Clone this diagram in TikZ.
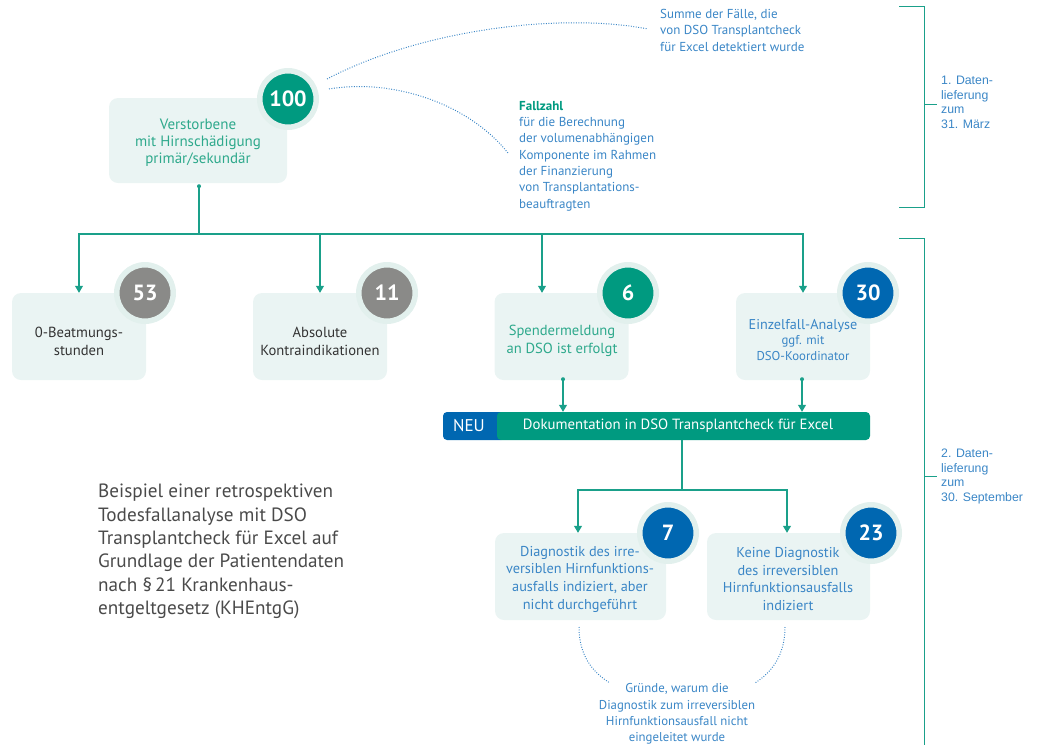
\documentclass[tikz,border=0pt]{standalone}
\usepackage{fontspec}
\setmainfont{PT Sans}
\newfontfamily\arialf{Liberation Sans}
\usetikzlibrary{arrows.meta,calc}
\definecolor{tealc}{HTML}{009A80}
\definecolor{tealtxt}{HTML}{2EA98C}
\definecolor{linec}{HTML}{1AA08A}
\definecolor{bluec}{HTML}{0067B1}
\definecolor{bluetxt}{HTML}{3A86C6}
\definecolor{grayc}{HTML}{8A8A88}
\definecolor{boxfill}{HTML}{EAF4F3}
\definecolor{halo}{HTML}{E2F0ED}
\definecolor{capgray}{HTML}{4A4A4A}
\definecolor{darktxt}{HTML}{333333}
\begin{document}
\begin{tikzpicture}[x=1pt,y=-1pt,
  box/.style={fill=boxfill, rounded corners=9pt, inner sep=0pt, minimum width=#1, minimum height=87pt},
  box/.default=134pt,
  numc/.style={circle, fill=#1, draw=halo, line width=5.5pt, minimum size=56.5pt, inner sep=0pt,
    text=white, font=\bfseries\fontsize{22}{22}\selectfont},
  btext/.style={align=center, inner sep=0pt, font=\fontsize{14.6}{18}\selectfont},
  ann/.style={align=left, inner sep=0pt, anchor=north west, text=bluetxt, font=\fontsize{13}{16.3}\selectfont},
  conn/.style={draw=linec, line width=1.1pt},
  arr/.style={conn, -{Triangle[width=8pt,length=7pt]}},
  dotc/.style={draw=bluetxt, line width=1pt, dash pattern=on 0.9pt off 1.6pt},
  brk/.style={draw=linec, line width=1pt},
  brtext/.style={align=left, inner sep=0pt, anchor=north west, text=bluetxt, font=\arialf\fontsize{12.3}{14.5}\selectfont}
]
\useasboundingbox (0,0) rectangle (1038,745);

% top box
\node[box=178pt, minimum height=85pt] (vb) at (198,140.5) {};
\node[btext, text=tealtxt, font=\fontsize{15}{17}\selectfont] (tvb) at (198,143) {Verstorbene\\mit Hirnschädigung\\primär/sekundär};
\node[numc=tealc] (c100) at (288,99) {100};

% row 2 boxes
\node[box] (b53) at (79,336.5) {};
\node[box] (b11) at (320,336.5) {};
\node[box] (b6) at (561.5,336.5) {};
\node[box] (b30) at (803,336.5) {};
\node[numc=grayc] (c53) at (145,293) {53};
\node[numc=grayc] (c11) at (387,293) {11};
\node[numc=tealc] (c6) at (628,293) {6};
\node[numc=bluec] (c30) at (868,293) {30};
\node[btext, text=darktxt] (t53) at (79,341) {0-Beatmungs-\\stunden};
\node[btext, text=darktxt] (t11) at (320,341) {Absolute\\Kontraindikationen};
\node[btext, text=tealtxt] (t6) at (562,341) {Spendermeldung\\an DSO ist erfolgt};
\node[btext, text=bluetxt, font=\fontsize{12.8}{15.8}\selectfont] (t30) at (803,340)
  {{\fontsize{14.2}{15.8}\selectfont Einzelfall-Analyse}\\ggf. mit\\DSO-Koordinator};

% documentation bar
\node[fill=bluec, rounded corners=4pt, minimum width=62pt, minimum height=28pt, inner sep=0pt] (neu) at (474,426) {};
\node[text=white, inner sep=0pt, font=\fontsize{17}{17}\selectfont] (tneu) at (469,426) {NEU};
\node[fill=tealc, rounded corners=4pt, minimum width=373pt, minimum height=28pt, inner sep=0pt,
  text=white, font=\fontsize{14.8}{14.8}\selectfont] (bar) at (683.5,426)
  {\hspace*{-11pt}Dokumentation in DSO Transplantcheck für Excel};

% row 3 boxes
\node[box=171pt] (b7) at (580.5,576.5) {};
\node[box=163pt] (b23) at (788.5,576.5) {};
\node[numc=bluec] (c7) at (668,533) {7};
\node[numc=bluec] (c23) at (871,533) {23};
\node[btext, text=bluetxt, font=\fontsize{14.3}{17.7}\selectfont] (t7) at (580,579)
  {Diagnostik des irre-\\versiblen Hirnfunktions-\\ausfalls indiziert, aber\\nicht durchgeführt};
\node[btext, text=bluetxt, font=\fontsize{14.3}{17.7}\selectfont] (t23) at (788,579)
  {Keine Diagnostik\\des irreversiblen\\Hirnfunktionsausfalls\\indiziert};

% reasons text
\node[btext, text=bluetxt, font=\fontsize{12.8}{16.2}\selectfont] (tg) at (677,714)
  {Gründe, warum die\\Diagnostik zum irreversiblen\\Hirnfunktionsausfall nicht\\eingeleitet wurde};

% annotations top
\node[ann] (a1) at (660,9) {Summe der Fälle, die\\von DSO Transplantcheck\\für Excel detektiert wurde};
\node[ann] (a2) at (519,101) {\textcolor{tealc}{\bfseries Fallzahl}\\für die Berechnung\\der volumenabhängigen\\Komponente im Rahmen\\der Finanzierung\\von Transplantations-\\beauftragten};

% caption
\node[align=left, inner sep=0pt, anchor=north west, text=capgray, font=\fontsize{19.2}{23.3}\selectfont] (cap) at (98,484)
  {Beispiel einer retrospektiven\\Todesfallanalyse mit DSO\\Transplantcheck für Excel auf\\Grundlage der Patientendaten\\nach §\,21 Krankenhaus-\\entgeltgesetz (KHEntgG)};

% connectors
\coordinate (bus) at (199,234);
\coordinate (s0) at ($(vb.south)+(1,3)$);
\fill[linec] (s0) circle (2pt);
\draw[conn] (s0) -- (bus);
\draw[arr] (bus) -| (b53.north);
\draw[arr] (bus) -| (b11.north);
\coordinate (e6) at ($(b6.north)+(-19.5,0)$);
\draw[arr] (bus) -| (e6);
\draw[arr] (bus) -| (b30.north);

\coordinate (s6) at ($(b6.south)+(1.5,-1)$);
\coordinate (s30) at ($(b30.south)+(-1,-1)$);
\fill[linec] (s6) circle (2pt);
\fill[linec] (s30) circle (2pt);
\draw[arr] (s6) -- (s6 |- bar.north);
\draw[arr] (s30) -- (s30 |- bar.north);

\coordinate (bus2) at (682,490);
\draw[conn] (bar.south -| bus2) -- (bus2);
\coordinate (e7) at ($(b7.north)+(-2.5,0)$);
\coordinate (e23) at ($(b23.north)+(-1.5,0)$);
\draw[arr] (bus2) -| (e7);
\draw[arr] (bus2) -| (e23);

% dotted curves
\coordinate (d1s) at (327,79);
\coordinate (d1e) at (648,29);
\coordinate (d2s) at (329,89);
\coordinate (d2e) at (508,153);
\draw[dotc] (d1s) .. controls (420,30) and (560,12) .. (d1e);
\draw[dotc] (d2s) .. controls (395,78) and (470,105) .. (d2e);
\coordinate (d3s) at (579,627);
\coordinate (d3e) at (610,683);
\coordinate (d4s) at (785,627);
\coordinate (d4e) at (755,683);
\draw[dotc] (d3s) .. controls (579,655) and (592,672) .. (d3e);
\draw[dotc] (d4s) .. controls (785,655) and (772,672) .. (d4e);

% brackets
\draw[brk] (899,6) -- (924,6) -- (924,207) -- (899,207);
\draw[brk] (924,104) -- (937,104);
\node[brtext] (br1) at (941,76) {1. Daten-\\lieferung\\zum\\31. März};
\draw[brk] (899,238) -- (924,238) -- (924,745);
\draw[brk] (924,476) -- (937,476);
\node[brtext] (br2) at (941,449) {2. Daten-\\lieferung\\zum\\30. September};
\end{tikzpicture}
\end{document}
